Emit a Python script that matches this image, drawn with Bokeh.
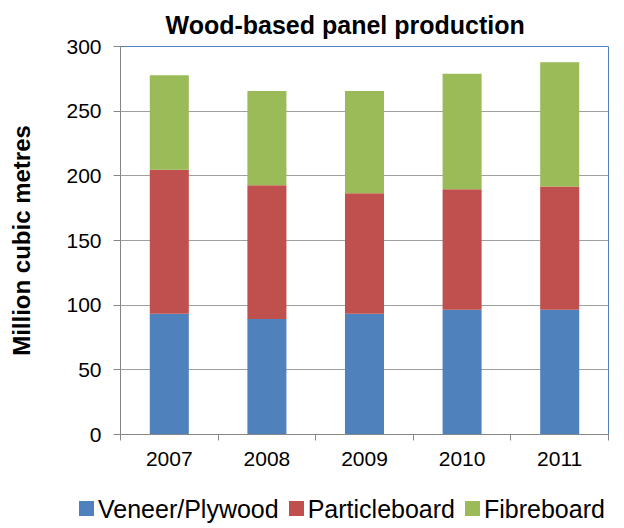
from bokeh.plotting import figure
from bokeh.layouts import column
from bokeh.models import ColumnDataSource, FixedTicker, Range1d, Div
from bokeh.embed import file_html
from bokeh.resources import INLINE

# ---- data ----
years = ["2007", "2008", "2009", "2010", "2011"]
veneer = [93.3, 89.4, 93.3, 96.4, 96.4]
particle = [111.4, 103.4, 93.3, 93.3, 95.4]
fibre = [73.0, 72.7, 78.9, 89.2, 96.1]
series_names = ["Veneer/Plywood", "Particleboard", "Fibreboard"]
colors = ["#4F81BD", "#C0504D", "#9BBB59"]
y_ticks = [0, 50, 100, 150, 200, 250, 300]

FONT = "Liberation Sans"
stack = ["veneer", "particle", "fibre"]

x = list(range(1, len(years) + 1))
src = ColumnDataSource(dict(x=x, veneer=veneer, particle=particle, fibre=fibre))

p = figure(frame_width=488, frame_height=388, output_backend="svg", toolbar_location=None,
           x_range=Range1d(0.5, len(years) + 0.5), y_range=Range1d(0, 300),
           min_border_left=10, min_border_right=8, min_border_top=0,
           min_border_bottom=50, margin=(0, 0, 0, 5))

renderers = p.vbar_stack(stack, x="x", width=0.4,
                         color=colors, line_color=None, source=src)

# title
p.title.text = "Wood-based panel production"
p.title.align = "left"
p.title.offset = 45
p.title.text_font = FONT
p.title.text_font_size = "25px"
p.title.text_font_style = "bold"
p.title.text_color = "black"
p.title.standoff = 16

# frame
p.outline_line_color = "#4F81BD"
p.outline_line_width = 1
p.background_fill_color = "white"
p.border_fill_color = "white"

# y axis
p.yaxis.ticker = FixedTicker(ticks=y_ticks)
p.yaxis.axis_label = "Million cubic metres"
p.yaxis.axis_label_text_font = FONT
p.yaxis.axis_label_text_font_size = "24px"
p.yaxis.axis_label_text_font_style = "bold"
p.yaxis.axis_label_text_color = "black"
p.yaxis.axis_label_standoff = 28
p.yaxis.major_label_text_font = FONT
p.yaxis.major_label_text_font_size = "21px"
p.yaxis.major_label_text_color = "black"
p.yaxis.major_label_standoff = 12
p.yaxis.major_tick_out = 7
p.yaxis.major_tick_in = 0
p.yaxis.minor_tick_out = 0
p.yaxis.minor_tick_in = 0
p.yaxis.axis_line_color = "#868686"
p.yaxis.major_tick_line_color = "#868686"

# x axis
p.xaxis.ticker = FixedTicker(ticks=x, minor_ticks=[v - 0.5 for v in x] + [x[-1] + 0.5])
p.xaxis.major_label_overrides = {v: y for v, y in zip(x, years)}
p.xaxis.major_label_text_font = FONT
p.xaxis.major_label_text_font_size = "21px"
p.xaxis.major_label_text_color = "black"
p.xaxis.major_label_standoff = 11
p.xaxis.major_tick_out = 0
p.xaxis.major_tick_in = 0
p.xaxis.minor_tick_out = 6
p.xaxis.minor_tick_in = 0
p.xaxis.axis_line_color = "#868686"
p.xaxis.minor_tick_line_color = "#868686"

# grid
p.xgrid.grid_line_color = None
p.ygrid.ticker = FixedTicker(ticks=y_ticks)
p.ygrid.grid_line_color = "#A0A0A0"
p.ygrid.grid_line_width = 1

# ---- legend strip below the plot ----
parts = []
for i, (name, col) in enumerate(zip(series_names, colors)):
    gap = "0px" if i == 0 else "10px"
    parts.append(
        f'<span style="display:inline-block;width:15px;height:15px;background:{col};'
        f'margin-left:{gap};margin-right:4px;vertical-align:2px;"></span>'
        f'<span>{name}</span>'
    )
legend_html = (
    f'<div style="font-family:\'{FONT}\';font-size:25px;line-height:25px;color:black;'
    f'white-space:nowrap;padding-left:79px;margin-top:13px;">' + "".join(parts) + "</div>"
)
legend_div = Div(text=legend_html, width=608, height=36, margin=(0, 0, 0, 0))

layout = column(p, legend_div, spacing=0)
open("out.html", "w").write(file_html(layout, INLINE))
